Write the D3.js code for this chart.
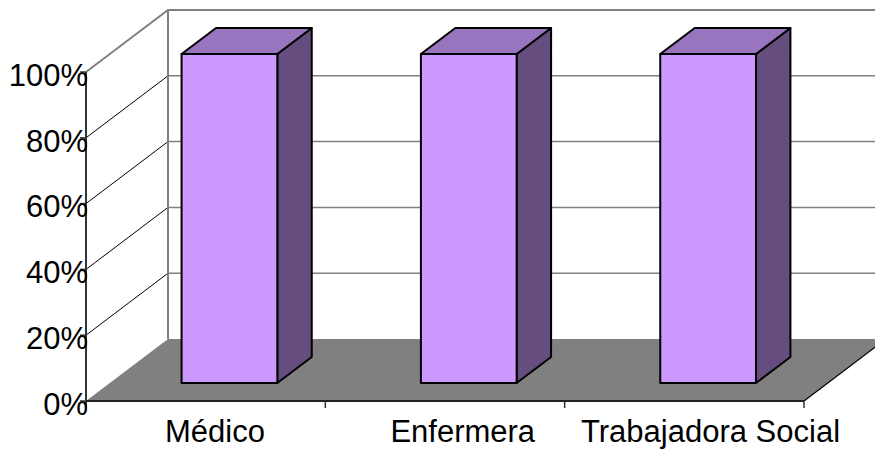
<!DOCTYPE html>
<html>
<head>
<meta charset="utf-8">
<script src="https://cdn.jsdelivr.net/npm/d3@7"></script>
<style>
  html, body { margin: 0; padding: 0; background: #fff; }
  svg { display: block; }
  text { font-family: Arial, "Liberation Sans", sans-serif; fill: #000; }
</style>
</head>
<body>
<svg id="chart" width="875" height="449"></svg>
<script>
// Share of each professional role (fraction of 1)
const categories = ["Médico", "Enfermera", "Trabajadora Social"];
const values = [1.0, 1.0, 1.0];
const yTickValues = [0, 0.2, 0.4, 0.6, 0.8, 1.0];

const W = 875, H = 449;
const svg = d3.select("#chart");

// Front plane of the 3-D box and its depth offset
const frontLeft = 86, frontRight = 804;
const depthX = 82, depthY = 62;
const barZ0 = 0.29, barZ1 = 0.71;   // bar depth span, fraction of the box depth

const x = d3.scaleBand().domain(categories).range([frontLeft, frontRight])
  .paddingInner(0.6).paddingOuter(0.3);
const xCat = d3.scaleBand().domain(categories).range([frontLeft, frontRight]);
const xLabel = d3.scalePoint().domain(categories).range([215, 710.5]);
const y = d3.scaleLinear().domain([0, 1]).range([401, 72]);

// Project a point on the front plane back into depth z (0..1)
const P = (px, py, z) => [px + z * depthX, py - z * depthY];
const poly = pts => "M" + pts.map(p => p.join(",")).join("L") + "Z";
const line = pts => "M" + pts.map(p => p.join(",")).join("L");

const backRight = frontRight + depthX;

// Back wall gridlines
svg.append("g").selectAll("path").data(yTickValues.filter(v => v > 0 && v < 1)).join("path")
  .attr("d", v => line([P(frontLeft, y(v), 1), P(frontRight, y(v), 1)]))
  .attr("stroke", "#808080").attr("stroke-width", 1.5).attr("fill", "none");

// Side wall gridlines (diagonals from front axis to back wall)
svg.append("g").selectAll("path").data(yTickValues.filter(v => v > 0 && v < 1)).join("path")
  .attr("d", v => line([P(frontLeft, y(v), 0), P(frontLeft, y(v), 1)]))
  .attr("stroke", "#000").attr("stroke-width", 1).attr("fill", "none");

// Floor
svg.append("path")
  .attr("d", poly([P(frontLeft, y(0), 0), P(frontLeft, y(0), 1), P(frontRight, y(0), 1), P(frontRight, y(0), 0)]))
  .attr("fill", "#808080").attr("stroke", "none");
svg.append("path")
  .attr("d", line([P(frontRight, y(0), 0), P(frontRight, y(0), 1)]))
  .attr("stroke", "#000").attr("stroke-width", 1.2).attr("fill", "none");

// Wall borders
svg.append("path")
  .attr("d", line([P(frontLeft, y(1), 0), P(frontLeft, y(1), 1), P(frontRight, y(1), 1)]))
  .attr("stroke", "#808080").attr("stroke-width", 2).attr("fill", "none");
svg.append("path")
  .attr("d", line([P(frontLeft, y(1), 1), P(frontLeft, y(0), 1)]))
  .attr("stroke", "#808080").attr("stroke-width", 2).attr("fill", "none");

// Front value axis
svg.append("path")
  .attr("d", line([[frontLeft, y(1)], [frontLeft, y(0) + 6]]))
  .attr("stroke", "#333").attr("stroke-width", 2).attr("fill", "none");
svg.append("g").selectAll("path").data(yTickValues).join("path")
  .attr("d", v => line([[frontLeft - 6, y(v)], [frontLeft, y(v)]]))
  .attr("stroke", "#333").attr("stroke-width", 1.5);

// Front category axis
svg.append("path")
  .attr("d", line([[frontLeft, y(0)], [frontRight, y(0)]]))
  .attr("stroke", "#222").attr("stroke-width", 2).attr("fill", "none");
const catEdges = categories.map(c => xCat(c) + xCat.bandwidth()).slice(0);
svg.append("g").selectAll("path").data(catEdges).join("path")
  .attr("d", e => line([[e, y(0)], [e, y(0) + 7]]))
  .attr("stroke", "#333").attr("stroke-width", 1.5);

// Bars
const bars = svg.append("g").selectAll("g").data(categories.map((c, i) => ({c, v: values[i]}))).join("g")
  .attr("stroke", "#000").attr("stroke-width", 2).attr("stroke-linejoin", "round");
bars.append("path") // right side
  .attr("d", d => {
    const x1 = x(d.c) + x.bandwidth();
    return poly([P(x1, y(d.v), barZ0), P(x1, y(d.v), barZ1), P(x1, y(0), barZ1), P(x1, y(0), barZ0)]);
  })
  .attr("fill", "#654e7f");
bars.append("path") // top
  .attr("d", d => {
    const x0 = x(d.c), x1 = x0 + x.bandwidth();
    return poly([P(x0, y(d.v), barZ0), P(x1, y(d.v), barZ0), P(x1, y(d.v), barZ1), P(x0, y(d.v), barZ1)]);
  })
  .attr("fill", "#9975bf");
bars.append("path") // front
  .attr("d", d => {
    const x0 = x(d.c), x1 = x0 + x.bandwidth();
    return poly([P(x0, y(d.v), barZ0), P(x1, y(d.v), barZ0), P(x1, y(0), barZ0), P(x0, y(0), barZ0)]);
  })
  .attr("fill", "#cc99ff");

// Value tick labels
svg.append("g").selectAll("text").data(yTickValues).join("text")
  .attr("x", frontLeft + 2).attr("y", v => y(v) + 3)
  .attr("dy", "0.35em").attr("text-anchor", "end")
  .attr("font-size", 31)
  .text(d3.format(".0%"));

// Category labels
svg.append("g").selectAll("text").data(categories).join("text")
  .attr("x", c => xLabel(c)).attr("y", 442)
  .attr("text-anchor", "middle").attr("font-size", 31)
  .text(c => c);
</script>
</body>
</html>
